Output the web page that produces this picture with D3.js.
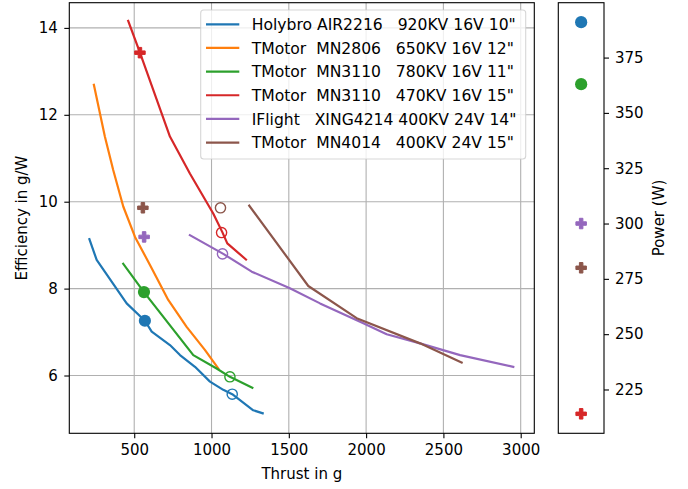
<!DOCTYPE html>
<html>
<head>
<meta charset="utf-8">
<script src="https://cdn.jsdelivr.net/npm/d3@7"></script>
<style>
  body { margin: 0; background: #fff; }
  svg text { font-family: "DejaVu Sans", sans-serif; fill: #000; }
</style>
</head>
<body>
<svg id="chart" width="688" height="489"></svg>
<script>
// Motor / propeller combinations, in legend order
const motorLabels = [
  "Holybro AIR2216   920KV 16V 10\"",
  "TMotor  MN2806   650KV 16V 12\"",
  "TMotor  MN3110   780KV 16V 11\"",
  "TMotor  MN3110   470KV 16V 15\"",
  "IFlight   XING4214 400KV 24V 14\"",
  "TMotor  MN4014   400KV 24V 15\""
];

// Throttle sweeps: thrust (g) against efficiency (g/W)
const holybroThrust = [210, 257, 451, 569, 613, 731, 796, 893, 990, 1076, 1134, 1270, 1331];
const holybroEff    = [9.14, 8.66, 7.66, 7.26, 7.01, 6.70, 6.47, 6.20, 5.86, 5.67, 5.57, 5.20, 5.13];
const mn2806Thrust  = [239, 310, 364, 429, 505, 613, 720, 839, 957, 1044];
const mn2806Eff     = [12.69, 11.50, 10.73, 9.89, 9.19, 8.47, 7.74, 7.12, 6.59, 6.16];
const mn3110kThrust = [429, 563, 882, 1033, 1119, 1264];
const mn3110kEff    = [8.57, 7.92, 6.47, 6.16, 5.97, 5.72];
const mn3110lThrust = [461, 537, 731, 860, 1011, 1070, 1102, 1223];
const mn3110lEff    = [14.16, 13.43, 11.50, 10.65, 9.73, 9.30, 9.04, 8.67];
const xingThrust    = [860, 1076, 1260, 1507, 1702, 1982, 2133, 2349, 2608, 2952];
const xingEff       = [9.23, 8.80, 8.39, 8.01, 7.66, 7.20, 6.95, 6.74, 6.47, 6.20];
const mn4014Thrust  = [1244, 1626, 1939, 2349, 2618];
const mn4014Eff     = [9.91, 8.06, 7.32, 6.74, 6.30];

const sweepThrust = [holybroThrust, mn2806Thrust, mn3110kThrust, mn3110lThrust, xingThrust, mn4014Thrust];
const sweepEff    = [holybroEff, mn2806Eff, mn3110kEff, mn3110lEff, xingEff, mn4014Eff];

// Hover operating point of each build (null: not measured)
const hoverThrust = [569, null, 563, 537, 564, 556];
const hoverEff    = [7.26, null, 7.92, 13.43, 9.19, 9.86];
const hoverPower  = [391, null, 363, 214, 300, 280];   // W
const hoverShape  = ["circle", null, "circle", "plus", "plus", "plus"];

// Second operating point (open circles)
const peakThrust = [1134, null, 1119, 1065, 1071, 1058];
const peakEff    = [5.57, null, 5.97, 9.29, 8.80, 9.86];

const thrustTicks = [500, 1000, 1500, 2000, 2500, 3000];
const effTicks    = [6, 8, 10, 12, 14];
const powerTicks  = [225, 250, 275, 300, 325, 350, 375];

// ---- layout ----
const FONT = 15;
const LEGEND_FONT = 15.6;
const colors = d3.schemeCategory10;
const main = { left: 69.3, right: 534.3, top: 2.7, bottom: 433.3 };
const side = { left: 558.3, right: 604, top: 2.7, bottom: 433.3 };
const gridColor = "#b0b0b0";

const svg = d3.select("#chart");

const x = d3.scaleLinear().domain([80, 3088]).range([main.left, main.right]);
const y = d3.scaleLinear().domain([4.67, 14.58]).range([main.bottom, main.top]);
const yPow = d3.scaleLinear().domain([205.2, 399.8]).range([side.bottom, side.top]);
const xSide = (side.left + side.right) / 2;

// plus-shaped filled marker
function plusPath(size) {
  const s = size / 6;
  const pts = [[-1,-3],[1,-3],[1,-1],[3,-1],[3,1],[1,1],[1,3],[-1,3],[-1,1],[-3,1],[-3,-1],[-1,-1]];
  return "M" + pts.map(p => (p[0] * s) + "," + (p[1] * s)).join("L") + "Z";
}
function drawMarker(g, shape, cx, cy, color) {
  if (shape === "circle") {
    g.append("circle").attr("cx", cx).attr("cy", cy).attr("r", 6.1).attr("fill", color);
  } else {
    g.append("path").attr("d", plusPath(10.5))
      .attr("transform", `translate(${cx},${cy})`)
      .attr("fill", color).attr("stroke", color).attr("stroke-width", 1).attr("stroke-linejoin", "miter");
  }
}

// ---- grid ----
const grid = svg.append("g");
grid.selectAll("line.gx").data(thrustTicks).join("line")
  .attr("x1", d => x(d)).attr("x2", d => x(d))
  .attr("y1", main.top).attr("y2", main.bottom)
  .attr("stroke", gridColor).attr("stroke-width", 1.1);
grid.selectAll("line.gy").data(effTicks).join("line")
  .attr("x1", main.left).attr("x2", main.right)
  .attr("y1", d => y(d)).attr("y2", d => y(d))
  .attr("stroke", gridColor).attr("stroke-width", 1.1);

// ---- sweeps ----
const line = d3.line().x(d => x(d[0])).y(d => y(d[1]));
const plot = svg.append("g");
sweepThrust.forEach((tx, i) => {
  const pts = tx.map((t, k) => [t, sweepEff[i][k]]);
  plot.append("path").datum(pts).attr("d", line)
    .attr("fill", "none").attr("stroke", colors[i])
    .attr("stroke-width", 2.2).attr("stroke-linejoin", "round").attr("stroke-linecap", "square");
});

// ---- operating points ----
motorLabels.forEach((_, i) => {
  if (peakThrust[i] != null) {
    plot.append("circle").attr("cx", x(peakThrust[i])).attr("cy", y(peakEff[i]))
      .attr("r", 5.1).attr("fill", "none").attr("stroke", colors[i]).attr("stroke-width", 1.4);
  }
});
motorLabels.forEach((_, i) => {
  if (hoverThrust[i] != null) {
    drawMarker(plot, hoverShape[i], x(hoverThrust[i]), y(hoverEff[i]), colors[i]);
  }
});

// ---- axes ----
function styleAxis(g) {
  g.attr("font-size", FONT).attr("font-family", "DejaVu Sans");
  g.select(".domain").remove();
  g.selectAll(".tick line").attr("stroke", "#000").attr("stroke-width", 1.1);
  g.selectAll(".tick text").attr("fill", "#000");
}
svg.append("g").attr("transform", `translate(0,${main.bottom})`)
  .call(d3.axisBottom(x).tickValues(thrustTicks).tickFormat(d3.format("d")).tickSize(5).tickPadding(6.5))
  .call(styleAxis);
svg.append("g").attr("transform", `translate(${main.left},0)`)
  .call(d3.axisLeft(y).tickValues(effTicks).tickFormat(d3.format("d")).tickSize(5).tickPadding(6.5))
  .call(styleAxis);

svg.append("rect").attr("x", main.left).attr("y", main.top)
  .attr("width", main.right - main.left).attr("height", main.bottom - main.top)
  .attr("fill", "none").attr("stroke", "#000").attr("stroke-width", 1.1);

svg.append("text").attr("x", (main.left + main.right) / 2).attr("y", 479)
  .attr("text-anchor", "middle").attr("font-size", FONT).text("Thrust in g");
svg.append("text").attr("transform", `translate(26.5,${(main.top + main.bottom) / 2}) rotate(-90)`)
  .attr("text-anchor", "middle").attr("font-size", FONT).text("Efficiency in g/W");

// ---- power panel ----
const sideG = svg.append("g");
motorLabels.forEach((_, i) => {
  if (hoverPower[i] != null) drawMarker(sideG, hoverShape[i], xSide, yPow(hoverPower[i]), colors[i]);
});
svg.append("g").attr("transform", `translate(${side.right},0)`)
  .call(d3.axisRight(yPow).tickValues(powerTicks).tickFormat(d3.format("d")).tickSize(5).tickPadding(6))
  .call(styleAxis);
svg.append("rect").attr("x", side.left).attr("y", side.top)
  .attr("width", side.right - side.left).attr("height", side.bottom - side.top)
  .attr("fill", "none").attr("stroke", "#000").attr("stroke-width", 1.1);
svg.append("text").attr("transform", `translate(663.5,${(side.top + side.bottom) / 2}) rotate(-90)`)
  .attr("text-anchor", "middle").attr("font-size", FONT).text("Power (W)");

// ---- legend ----
const leg = svg.append("g");
leg.append("rect").attr("x", 200.7).attr("y", 10).attr("width", 325).attr("height", 149)
  .attr("rx", 3).attr("fill", "#fff").attr("fill-opacity", 0.8)
  .attr("stroke", "#cccccc").attr("stroke-opacity", 0.8).attr("stroke-width", 1.1);
motorLabels.forEach((label, i) => {
  const cy = 24.3 + i * 23.65;
  leg.append("line").attr("x1", 206).attr("x2", 239.3).attr("y1", cy).attr("y2", cy)
    .attr("stroke", colors[i]).attr("stroke-width", 2.2);
  leg.append("text").attr("x", 251.7).attr("y", cy).attr("dy", "0.36em")
    .attr("font-size", LEGEND_FONT).style("white-space", "pre").text(label);
});
</script>
</body>
</html>
